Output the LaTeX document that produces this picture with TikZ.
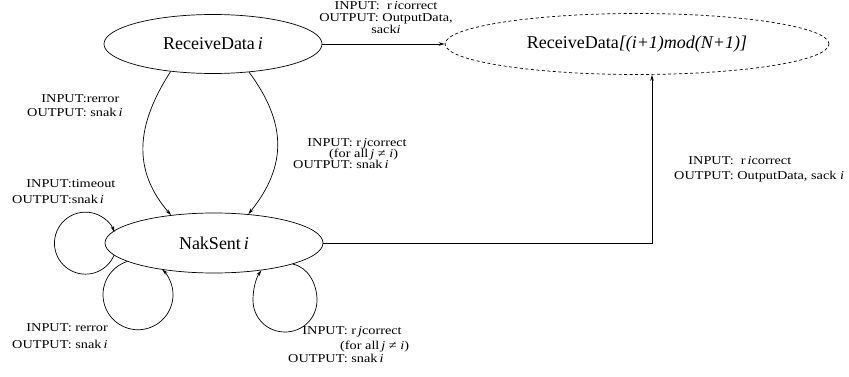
\documentclass[tikz,border=0pt]{standalone}
\usepackage{fontspec}
\setmainfont{Liberation Serif}
\newfontfamily\lblfont[FakeStretch=1.19]{Liberation Serif}
\usetikzlibrary{shapes.geometric,arrows.meta}
\newcommand{\vi}{\textit{i}}
\newcommand{\vj}{\textit{j}}
\begin{document}
\begin{tikzpicture}[x=1pt,y=-1pt,
  state/.style={ellipse,draw,line width=0.7pt,inner sep=0pt,font=\fontsize{18}{20}\selectfont},
  lbl/.style={font=\lblfont\fontsize{12}{11.5}\selectfont,inner sep=0pt},
  arr/.style={line width=0.7pt,-{Stealth[length=6pt,width=3.5pt]}},
  loopline/.style={line width=0.7pt,-{Stealth[length=6pt,width=3.5pt]}},
]
\useasboundingbox (0,0) rectangle (849,377);
\renewcommand{\arraystretch}{1}
\node[state,minimum width=218pt,minimum height=59pt] (rd) at (213,44) {ReceiveData\,\vi};
\node[state,minimum width=218pt,minimum height=60pt] (ns) at (214,243) {NakSent\,\vi};
\node[state,dash pattern=on 3pt off 2.5pt,minimum width=384pt,minimum height=61pt] (rd2) at (637,44) {ReceiveData\textit{[(i+1)mod(N+1)]}};

% connectors
\draw[arr] (rd.east) -- (rd2.west);
\draw[arr] (rd.213) .. controls (136,125) and (132,170) .. (ns.147);
\draw[arr] (rd.-38) .. controls (286,122) and (288,165) .. (ns.40);
\coordinate (cn) at (652,243);
\draw[arr] (ns.east) -- (cn) -- (cn |- rd2.south);
% self loops
\draw[loopline] (ns.187) arc[start angle=23,end angle=339,radius=31];
\draw[loopline] (ns.192) arc[start angle=252,end angle=-46,radius=35];
\draw[loopline] (ns.-15) .. controls (308,267) and (317,284) .. (317,300)
  .. controls (317,318) and (303,332) .. (285,332)
  .. controls (267,332) and (253,318) .. (253,300)
  .. controls (253,289) and (256,278) .. (ns.-30);

% labels
\node[lbl,align=center,font=\lblfont\fontsize{12}{12}\selectfont] (ltop) at (386,18)
  {INPUT:\ \ r\,\vi correct\\OUTPUT: OutputData,\\sack\vi};
\node[lbl,anchor=west] (lrerr) at (27,107)
  {\begin{tabular}{@{}r@{}l@{}}INPUT:&rerror\\[2pt]OUTPUT:&\ snak\,\vi\end{tabular}};
\node[lbl,anchor=west] (lmid) at (293,155)
  {\begin{tabular}{@{}r@{}l@{}}INPUT:&\ r\,\vj correct\\[-1pt]
   \multicolumn{2}{@{}l@{}}{\hspace{36pt}(for all\,\vj\ ≠ \vi)}\\[-0.5pt]
   OUTPUT:&\ snak\,\vi\end{tabular}};
\node[lbl,anchor=west] (ltime) at (12,193)
  {\begin{tabular}{@{}r@{}l@{}}INPUT:&timeout\\[4pt]OUTPUT:&snak\,\vi\end{tabular}};
\node[lbl,anchor=west] (lbl2) at (12,338)
  {\begin{tabular}{@{}r@{}l@{}}INPUT:&\ rerror\\[5pt]OUTPUT:&\ snak\,\vi\end{tabular}};
\node[lbl,anchor=west] (lbr) at (288,346)
  {\begin{tabular}{@{}r@{}l@{}}INPUT:&\ r\,\vj correct\\[3pt]
   \multicolumn{2}{@{}l@{}}{\hspace{52pt}(for all\,\vj\ ≠ \vi)}\\[1pt]
   OUTPUT:&\ snak\,\vi\end{tabular}};
\node[lbl,anchor=west] (lright) at (674,170)
  {\begin{tabular}{@{}r@{}l@{}}INPUT:&\ \ r\,\vi correct\\[3pt]OUTPUT:&\ OutputData, sack \vi\end{tabular}};
\end{tikzpicture}
\end{document}
